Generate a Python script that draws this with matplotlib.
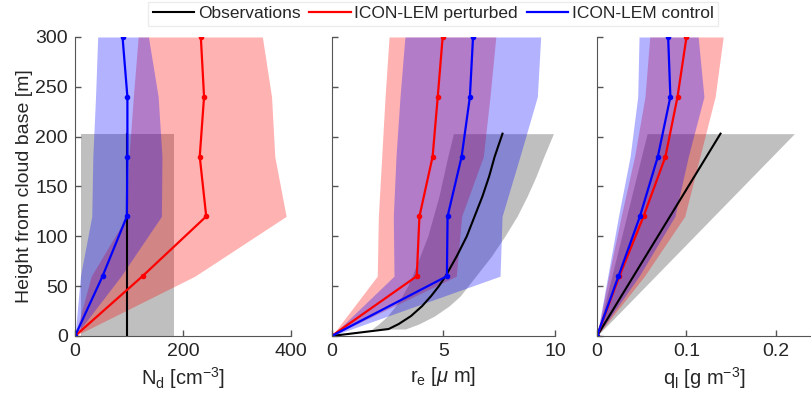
import matplotlib as mpl
import matplotlib.pyplot as plt
import numpy as np

mpl.rcParams['font.family'] = 'Liberation Sans'
mpl.rcParams['mathtext.fontset'] = 'custom'
mpl.rcParams['mathtext.rm'] = 'Liberation Sans'
mpl.rcParams['mathtext.it'] = 'Liberation Sans:italic'
mpl.rcParams['mathtext.bf'] = 'Liberation Sans:bold'

# model levels (height from cloud base, m)
heights = [0, 60, 120, 180, 240, 300]

# droplet number concentration N_d [cm^-3]
nd_ctrl = [0, 51, 96, 97, 97, 88]
nd_ctrl_lo = [0, 10, 31, 33, 38, 42]
nd_ctrl_hi = [0, 85, 160, 161, 154, 136]
nd_pert = [0, 125, 243, 231, 239, 233]
nd_pert_lo = [0, 30, 96, 100, 108, 117]
nd_pert_hi = [0, 222, 391, 370, 364, 347]
nd_obs = 97
nd_obs_lo = 12
nd_obs_hi = 183
obs_top = 203

# effective radius r_e [um]
re_ctrl = [0, 5.16, 5.19, 5.82, 6.19, 6.33]
re_ctrl_lo = [0, 2.79, 2.76, 2.88, 3.06, 3.28]
re_ctrl_hi = [0, 7.54, 7.63, 8.43, 9.21, 9.36]
re_pert = [0, 3.81, 3.93, 4.52, 4.75, 4.97]
re_pert_lo = [0, 2.04, 2.09, 2.24, 2.39, 2.57]
re_pert_hi = [0, 5.58, 5.82, 6.79, 7.09, 7.35]
re_obs_h = [0, 7, 12, 20, 30, 40, 50, 60, 80, 100, 120, 140, 160, 180, 203]
re_obs = [0, 2.55, 3.0, 3.55, 4.05, 4.45, 4.8, 5.1, 5.6, 6.05, 6.4, 6.75, 7.05, 7.3, 7.65]
re_obs_band_h = [7, 12, 20, 30, 40, 50, 60, 80, 100, 120, 140, 160, 180, 203]
re_obs_lo = [1.8, 2.1, 2.5, 2.85, 3.15, 3.4, 3.6, 3.95, 4.3, 4.55, 4.8, 5.0, 5.2, 5.45]
re_obs_hi = [3.3, 3.9, 4.6, 5.25, 5.75, 6.1, 6.45, 7.15, 7.75, 8.3, 8.75, 9.15, 9.5, 9.93]

# liquid water content q_l [g m^-3]
ql_ctrl = [0, 0.024, 0.048, 0.068, 0.082, 0.0795]
ql_ctrl_lo = [0, 0.012, 0.024, 0.037, 0.0455, 0.047]
ql_ctrl_hi = [0, 0.047, 0.087, 0.102, 0.1195, 0.113]
ql_pert = [0, 0.025, 0.052, 0.0765, 0.090, 0.100]
ql_pert_lo = [0, 0.013, 0.027, 0.042, 0.0536, 0.059]
ql_pert_hi = [0, 0.053, 0.098, 0.115, 0.132, 0.141]
ql_obs_h = [0, 203]
ql_obs = [0, 0.138]
ql_obs_lo = [0, 0.056]
ql_obs_hi = [0, 0.2205]

txt = '#262626'
fig = plt.figure(figsize=(8.11, 4.05), dpi=100)
ax1 = fig.add_axes([0.0925, 0.1704, 0.2663, 0.7383])
ax2 = fig.add_axes([0.409, 0.1704, 0.2753, 0.7383])
ax3 = fig.add_axes([0.7361, 0.1704, 0.2649, 0.7383])

# observations
ax1.fill_betweenx([0, obs_top], nd_obs_lo, nd_obs_hi, color='k', alpha=0.25, lw=0)
ax1.plot([nd_obs, nd_obs], [0, obs_top], 'k-', lw=1.5)
ax2.fill_betweenx(re_obs_band_h, re_obs_lo, re_obs_hi, color='k', alpha=0.25, lw=0)
ax2.plot(re_obs, re_obs_h, 'k-', lw=1.5)
ax3.fill_betweenx(ql_obs_h, ql_obs_lo, ql_obs_hi, color='k', alpha=0.25, lw=0)
ax3.plot(ql_obs, ql_obs_h, 'k-', lw=1.5, label='Observations')

# model spread
for ax, plo, phi, clo, chi in [(ax1, nd_pert_lo, nd_pert_hi, nd_ctrl_lo, nd_ctrl_hi),
                               (ax2, re_pert_lo, re_pert_hi, re_ctrl_lo, re_ctrl_hi),
                               (ax3, ql_pert_lo, ql_pert_hi, ql_ctrl_lo, ql_ctrl_hi)]:
    ax.fill_betweenx(heights, plo, phi, color='red', alpha=0.3, lw=0)
    ax.fill_betweenx(heights, clo, chi, color='blue', alpha=0.3, lw=0)

# model means
for ax, pert, ctrl in [(ax1, nd_pert, nd_ctrl), (ax2, re_pert, re_ctrl), (ax3, ql_pert, ql_ctrl)]:
    ax.plot(pert, heights, '.-', color='red', lw=1.6, ms=6, label='ICON-LEM perturbed')
    ax.plot(ctrl, heights, '.-', color='blue', lw=1.6, ms=6, label='ICON-LEM control')

# format axes
ax1.set_xlim([0, 400])
ax1.set_xticks([0, 200, 400])
ax2.set_xlim([0, 10])
ax2.set_xticks([0, 5, 10])
ax3.set_xlim([0, 0.24])
ax3.set_xticks([0, 0.1, 0.2])
ax3.set_xticklabels(['0', '0.1', '0.2'])

for ax in [ax1, ax2, ax3]:
    ax.set_ylim([0, 300])
    ax.set_yticks(np.arange(0, 301, 50))
    ax.spines['top'].set_visible(False)
    ax.spines['right'].set_visible(False)
    ax.spines['left'].set_color('#555555')
    ax.spines['bottom'].set_color('#555555')
    ax.tick_params(direction='in', length=4, width=1, colors='#555555', labelcolor=txt,
                   labelsize=14, pad=5)
ax2.set_yticklabels([])
ax3.set_yticklabels([])

ax1.set_ylabel('Height from cloud base [m]', fontsize=14, color=txt, labelpad=2)
ax1.set_xlabel(r'N$_\mathrm{d}$ [cm$^{-3}$]', fontsize=14.5, color=txt, labelpad=4)
ax2.set_xlabel(r'r$_\mathrm{e}$ [$\mu$ m]', fontsize=14.5, color=txt, labelpad=4)
ax3.set_xlabel(r'q$_\mathrm{l}$ [g m$^{-3}$]', fontsize=14.5, color=txt, labelpad=4)

handles, labels = ax3.get_legend_handles_labels()
leg = fig.legend(handles, labels, loc='center', bbox_to_anchor=(0.534, 0.966), ncol=3,
                 fontsize=12.5, frameon=True, fancybox=False, edgecolor='#e8e8e8',
                 handlelength=2.4, handletextpad=0.2, columnspacing=0.5,
                 borderpad=0.25, borderaxespad=0)
for h in leg.legend_handles:
    h.set_marker('')
for t in leg.get_texts():
    t.set_color(txt)

plt.savefig('out.png', dpi=100)
plt.close('all')
